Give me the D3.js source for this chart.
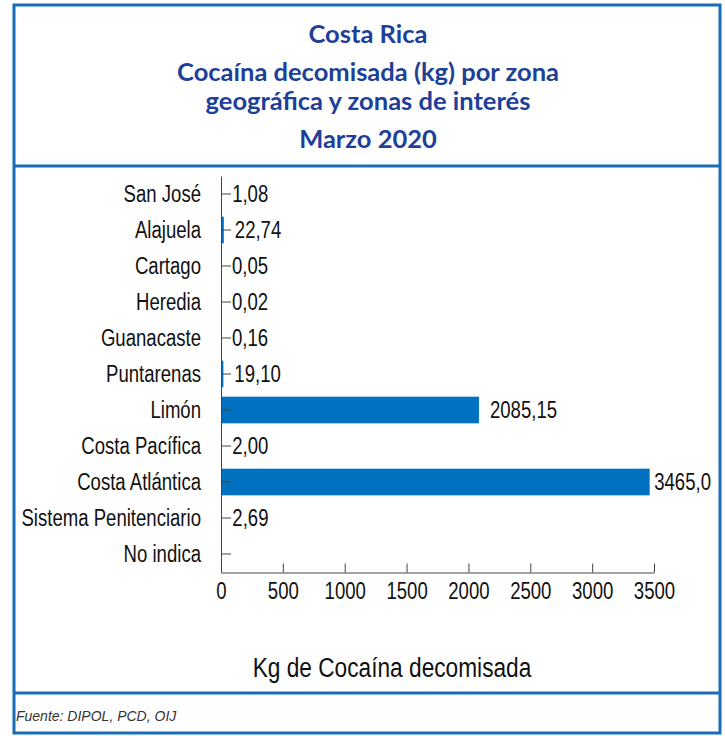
<!DOCTYPE html>
<html>
<head>
<meta charset="utf-8">
<script src="https://cdn.jsdelivr.net/npm/d3@7"></script>
<style>
  html, body { margin: 0; padding: 0; background: #ffffff; }
  svg { display: block; }
</style>
</head>
<body>
<svg id="chart" width="725" height="736"></svg>
<script>
// ---- data ----
const categories = ["San José", "Alajuela", "Cartago", "Heredia", "Guanacaste", "Puntarenas",
  "Limón", "Costa Pacífica", "Costa Atlántica", "Sistema Penitenciario", "No indica"];
const values = [1.08, 22.74, 0.05, 0.02, 0.16, 19.10, 2085.15, 2.00, 3465.0, 2.69, null];
const valueLabels = ["1,08", "22,74", "0,05", "0,02", "0,16", "19,10", "2085,15", "2,00", "3465,0", "2,69", ""];
const xTicks = [0, 500, 1000, 1500, 2000, 2500, 3000, 3500];
const titleLines = ["Costa Rica", "Cocaína decomisada (kg) por zona", "geográfica y zonas de interés", "Marzo  2020"];
const axisTitle = "Kg de Cocaína decomisada";
const sourceNote = "Fuente: DIPOL, PCD, OIJ";

// ---- drawing ----
const svg = d3.select("#chart");
const frameColor = "#1a6db4";
const titleColor = "#203f98";
const barColor = "#0070c0";
const axisColor = "#444444";
const narrowFont = "'Liberation Sans', Arial, sans-serif";
const K = 0.79; // horizontal condensing to mimic a condensed face

function condense(sel, k) {
  sel.each(function() {
    const w = this.getComputedTextLength();
    this.setAttribute("textLength", w * k);
    this.setAttribute("lengthAdjust", "spacingAndGlyphs");
  });
}

// frame
const frame = svg.append("g");
frame.append("rect").attr("x", 14).attr("y", 5).attr("width", 706).attr("height", 728)
  .attr("fill", "none").attr("stroke", frameColor).attr("stroke-width", 3);
frame.append("line").attr("x1", 14).attr("x2", 720).attr("y1", 166).attr("y2", 166)
  .attr("stroke", frameColor).attr("stroke-width", 3);
frame.append("line").attr("x1", 14).attr("x2", 720).attr("y1", 693).attr("y2", 693)
  .attr("stroke", frameColor).attr("stroke-width", 3);

// title
const titleY = [43, 81, 110, 148];
svg.append("g").selectAll("text").data(titleLines).join("text")
  .attr("x", 368).attr("y", (d, i) => titleY[i])
  .attr("text-anchor", "middle")
  .attr("font-family", "Lato, 'Open Sans', sans-serif")
  .attr("font-weight", "bold").attr("font-size", 25.5)
  .attr("fill", titleColor).text(d => d);

// scales
const x = d3.scaleLinear().domain([0, 3500]).range([221, 654]);
const y = d3.scaleBand().domain(categories).range([176, 572]).paddingInner(0.26).paddingOuter(0.13);

// bars
const rows = categories.map((c, i) => ({ c, v: values[i], label: valueLabels[i] }));
svg.append("g").selectAll("rect").data(rows.filter(d => d.v != null)).join("rect")
  .attr("x", x(0)).attr("y", d => y(d.c))
  .attr("width", d => x(d.v) - x(0)).attr("height", y.bandwidth())
  .attr("fill", barColor);

// y axis
const yAxis = svg.append("g").attr("transform", `translate(${x(0)},0)`)
  .call(d3.axisLeft(y).tickSizeInner(-10).tickSizeOuter(0).tickPadding(20));
yAxis.select(".domain").attr("stroke", axisColor);
yAxis.selectAll(".tick line").attr("stroke", axisColor);
yAxis.selectAll(".tick text").attr("font-size", 23.5).attr("fill", "#111")
  .attr("font-family", narrowFont).call(condense, K);

// x axis
const xAxis = svg.append("g").attr("transform", "translate(0,572.5)")
  .call(d3.axisBottom(x).tickValues(xTicks).tickFormat(d3.format("d")).tickSizeInner(-9).tickSizeOuter(0).tickPadding(10));
xAxis.select(".domain").attr("stroke", axisColor);
xAxis.selectAll(".tick line").attr("stroke", axisColor);
xAxis.selectAll(".tick text").attr("font-size", 23.5).attr("fill", "#111")
  .attr("font-family", narrowFont).call(condense, K);

// value labels
const vl = svg.append("g").selectAll("text").data(rows.filter(d => d.label)).join("text")
  .attr("y", d => y(d.c) + y.bandwidth() / 2)
  .attr("dy", "0.36em")
  .attr("font-size", 23.5).attr("fill", "#111")
  .attr("font-family", narrowFont)
  .text(d => d.label);
vl.attr("x", function(d) {
  const w = this.getComputedTextLength() * K;
  return Math.min(x(d.v) + 11, 711 - w);
});
vl.call(condense, K);

// axis title
svg.append("text")
  .attr("x", 392).attr("y", 677).attr("text-anchor", "middle")
  .attr("font-size", 27).attr("fill", "#111")
  .attr("font-family", narrowFont)
  .text(axisTitle).call(condense, 0.84);

// source note
svg.append("text")
  .attr("x", 16).attr("y", 721)
  .attr("font-family", "'Liberation Sans', Arial, sans-serif")
  .attr("font-style", "italic").attr("font-size", 14).attr("fill", "#333")
  .text(sourceNote);
</script>
</body>
</html>
